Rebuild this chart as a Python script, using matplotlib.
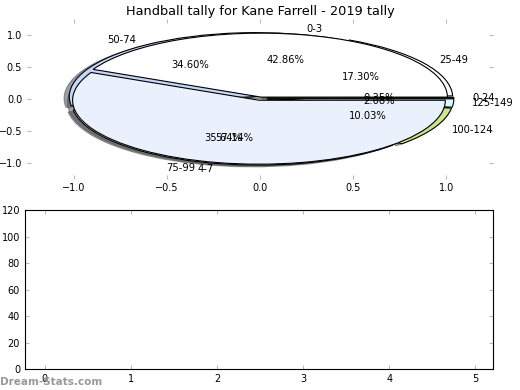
import matplotlib
matplotlib.use("Agg")
import matplotlib.pyplot as plt

# outer tally bands
band_labels = ['0-24', '25-49', '50-74', '75-99', '100-124', '125-149']
band_pct = [0.35, 17.30, 34.60, 35.64, 10.03, 2.08]
band_colors = ['#333333', '#ffffff', '#c5d7f7', '#dfe6f2', '#cde58c', '#dbfcff']

# inner tally groups
group_labels = ['0-3', '4-7']
group_pct = [42.86, 57.14]
group_colors = ['#ffffff', '#ebf1fc']

# empty bar panel
bar_ticks = [0, 1, 2, 3, 4, 5]

fig = plt.figure(figsize=(5.2, 3.9), dpi=100)

ax = fig.add_axes([0.052, 0.542, 0.896, 0.41])
ax.pie(band_pct, labels=band_labels, colors=band_colors, autopct='%1.2f%%',
       explode=[0.04] * len(band_pct), shadow=True,
       wedgeprops={'edgecolor': 'black', 'linewidth': 0.8},
       textprops={'fontsize': 7.2})
ax.pie(group_pct, labels=group_labels, colors=group_colors, autopct='%1.2f%%',
       explode=[0.025, 0.025], shadow=True,
       wedgeprops={'edgecolor': 'black', 'linewidth': 0.8},
       textprops={'fontsize': 7.2})
ax.set_aspect('auto')
ax.set_frame_on(True)
for s in ax.spines.values():
    s.set_visible(False)
ax.set_xlim(-1.25, 1.25)
ax.set_ylim(-1.25, 1.25)
ax.set_xticks([-1.0, -0.5, 0.0, 0.5, 1.0])
ax.set_yticks([-1.0, -0.5, 0.0, 0.5, 1.0])
ax.tick_params(direction='in', length=3, color='#bbbbbb', labelsize=7,
               top=True, right=True)
ax.set_title('Handball tally for Kane Farrell - 2019 tally', fontsize=9.3, pad=3)

bx = fig.add_axes([0.048, 0.053, 0.9007, 0.4085])
bx.set_xlim(-0.23, 5.21)
bx.set_ylim(0, 120)
bx.set_xticks(bar_ticks)
bx.set_yticks(range(0, 121, 20))
bx.tick_params(direction='in', length=3, color='#bbbbbb', labelsize=7,
               top=True, right=True)

fig.text(0.0, 0.014, 'Dream-Stats.com', color='#999999', fontsize=7.5,
         fontweight='bold')

fig.savefig('out.png', dpi=100)
